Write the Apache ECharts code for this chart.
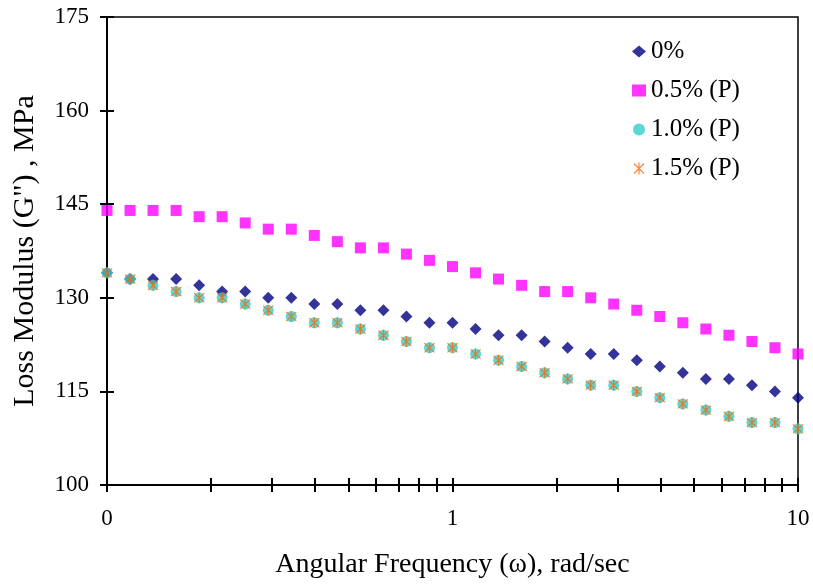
<!DOCTYPE html>
<html>
<head>
<meta charset="utf-8">
<script src="https://cdn.jsdelivr.net/npm/echarts@6/dist/echarts.min.js"></script>
<style>
  html, body { margin: 0; padding: 0; background: #fff; }
  #chart { width: 813px; height: 587px; }
</style>
</head>
<body>
<div id="chart"></div>
<script>
// angular frequency, rad/sec (15 points per decade)
const freq = [0.1, 0.1166, 0.1359, 0.1585, 0.1848, 0.2154, 0.2512, 0.2929, 0.3415, 0.3981,
  0.4642, 0.5412, 0.6310, 0.7356, 0.8577, 1, 1.166, 1.359, 1.585, 1.848,
  2.154, 2.512, 2.929, 3.415, 3.981, 4.642, 5.412, 6.310, 7.356, 8.577, 10];

const g0 = [134, 133, 133, 133, 132, 131, 131, 130, 130, 129, 129, 128, 128, 127, 126, 126,
  125, 124, 124, 123, 122, 121, 121, 120, 119, 118, 117, 117, 116, 115, 114];
const g05 = [144, 144, 144, 144, 143, 143, 142, 141, 141, 140, 139, 138, 138, 137, 136, 135,
  134, 133, 132, 131, 131, 130, 129, 128, 127, 126, 125, 124, 123, 122, 121];
const g10 = [134, 133, 132, 131, 130, 130, 129, 128, 127, 126, 126, 125, 124, 123, 122, 122,
  121, 120, 119, 118, 117, 116, 116, 115, 114, 113, 112, 111, 110, 110, 109];
const g15 = [134, 133, 132, 131, 130, 130, 129, 128, 127, 126, 126, 125, 124, 123, 122, 122,
  121, 120, 119, 118, 117, 116, 116, 115, 114, 113, 112, 111, 110, 110, 109];

const seriesNames = ['0%', '0.5% (P)', '1.0% (P)', '1.5% (P)'];
const xTicks = [0.1, 0.2, 0.3, 0.4, 0.5, 0.6, 0.7, 0.8, 0.9, 1, 2, 3, 4, 5, 6, 7, 8, 9, 10];

const FONT = '"Liberation Serif", "Times New Roman", serif';
const asterisk = 'path://M4.5,0L5.5,0L5.5,10L4.5,10Z' +
  'M1.2,0.5L9.5,8.8L8.8,9.5L0.5,1.2Z' +
  'M8.8,0.5L9.5,1.2L1.2,9.5L0.5,8.8Z';

const pairs = ys => freq.map((f, i) => [f, ys[i]]);

const chart = echarts.init(document.getElementById('chart'));

const yBase = {
  type: 'value', min: 100, max: 175, interval: 15, position: 'left',
  splitLine: { show: false }
};
const xBase = {
  type: 'log', logBase: 10, min: 0.1, max: 10, position: 'bottom',
  splitLine: { show: false }
};

chart.setOption({
  animation: false,
  grid: {
    left: 107, right: 15, top: 17, bottom: 102,
    show: true, borderColor: '#000', borderWidth: 1.5
  },
  legend: {
    orient: 'vertical', left: 627, top: 34,
    itemWidth: 14, itemHeight: 12, itemGap: 14,
    textStyle: { fontFamily: FONT, fontSize: 25, color: '#000' },
    data: seriesNames
  },
  xAxis: [
    Object.assign({}, xBase, {
      name: 'Angular Frequency (\u03c9), rad/sec',
      nameLocation: 'middle', nameGap: 66,
      nameTextStyle: { fontFamily: FONT, fontSize: 28, color: '#000' },
      axisLine: { lineStyle: { color: '#000', width: 2 } },
      axisTick: { inside: false, length: 7, customValues: xTicks, lineStyle: { color: '#000', width: 2 } },
      axisLabel: {
        margin: 22, fontFamily: FONT, fontSize: 23, color: '#000',
        formatter: v => (v < 1 ? '0' : String(Math.round(v)))
      }
    }),
    Object.assign({}, xBase, {
      axisLine: { show: false },
      axisTick: { inside: true, length: 7, customValues: xTicks, lineStyle: { color: '#000', width: 2 } },
      axisLabel: { show: false }
    })
  ],
  yAxis: [
    Object.assign({}, yBase, {
      name: 'Loss Modulus (G") , MPa',
      nameLocation: 'middle', nameGap: 67,
      nameTextStyle: { fontFamily: FONT, fontSize: 30, color: '#000' },
      axisLine: { lineStyle: { color: '#000', width: 2 } },
      axisTick: { inside: false, length: 7, lineStyle: { color: '#000', width: 2 } },
      axisLabel: { margin: 18, fontFamily: FONT, fontSize: 23, color: '#000' }
    }),
    Object.assign({}, yBase, {
      axisLine: { show: false },
      axisTick: { inside: true, length: 7, lineStyle: { color: '#000', width: 2 } },
      axisLabel: { show: false }
    })
  ],
  series: [
    {
      name: seriesNames[0], type: 'scatter', symbol: 'diamond', symbolSize: 12,
      itemStyle: { color: '#000080' }, data: pairs(g0)
    },
    {
      name: seriesNames[1], type: 'scatter', symbol: 'rect', symbolSize: 11,
      itemStyle: { color: '#FF00FF' }, data: pairs(g05)
    },
    {
      name: seriesNames[2], type: 'scatter', symbol: 'circle', symbolSize: 11,
      itemStyle: { color: '#33CCCC' }, data: pairs(g10)
    },
    {
      name: seriesNames[3], type: 'scatter', symbol: asterisk, symbolSize: 11,
      itemStyle: { color: '#FF6600' }, data: pairs(g15)
    }
  ]
});
</script>
</body>
</html>
